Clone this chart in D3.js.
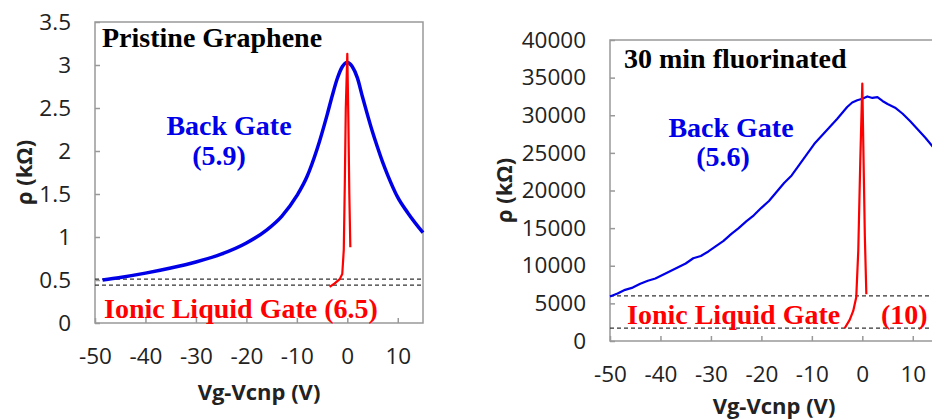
<!DOCTYPE html>
<html>
<head>
<meta charset="utf-8">
<script src="https://cdn.jsdelivr.net/npm/d3@7"></script>
<style>
  body { margin: 0; background: #fff; }
  svg { display: block; }
  .tick text { font-family: "Open Sans", sans-serif; font-size: 22.5px; fill: #222; }
  .axtitle { font-family: "Open Sans", sans-serif; font-size: 22px; font-weight: bold; fill: #222; }
  .lbl { font-family: "Liberation Serif", "Times New Roman", serif; font-size: 28px; font-weight: bold; }
</style>
</head>
<body>
<svg width="932" height="420"></svg>
<script>
// pristine graphene, back gate (V, kOhm)
var bgLeftV   = [-48.5, -45, -40, -35, -30, -25, -20, -16, -13, -10, -8, -6, -4, -3, -2, -1, 0, 1, 2, 3, 4, 5, 6, 7, 8, 10, 12, 15];
var bgLeftRho = [0.50, 0.53, 0.58, 0.64, 0.71, 0.80, 0.93, 1.08, 1.24, 1.48, 1.70, 2.02, 2.42, 2.64, 2.84, 2.98, 3.03, 2.98, 2.85, 2.63, 2.42, 2.22, 2.04, 1.87, 1.72, 1.46, 1.28, 1.05];
// pristine graphene, ionic liquid gate
var ilLeftV   = [-3.5, -2.5, -1.5, -1, -0.7, -0.5, -0.3, 0, 0.2, 0.4, 0.6];
var ilLeftRho = [0.42, 0.46, 0.51, 0.57, 0.85, 1.6, 2.5, 3.13, 2.4, 1.5, 0.88];
var dashLeft  = [0.51, 0.44];

// 30 min fluorinated, back gate
var bgRightV   = [-50, -48.5, -47, -45.5, -44, -42.5, -41, -39.5, -38, -36.5, -35, -33.5, -32, -30.5, -29, -27.5, -26, -24.5, -23, -21.5, -20, -18.5, -17, -15.5, -14, -12.5, -11, -9.5, -8, -6.5, -5, -4, -3, -2, -1, 0, 1, 2, 3, 4, 5, 6.5, 8, 9.5, 11, 12.5, 14, 15];
var bgRightRho = [5900, 6300, 6800, 7100, 7600, 8000, 8300, 8800, 9300, 9800, 10300, 11000, 11300, 11900, 12600, 13300, 14200, 15000, 15900, 16700, 17700, 18600, 19800, 21000, 22000, 23400, 24800, 26200, 27300, 28400, 29500, 30300, 31100, 31700, 32000, 32200, 32500, 32300, 32400, 31900, 31500, 31000, 30200, 29200, 28100, 27000, 25800, 24900];
// 30 min fluorinated, ionic liquid gate
var ilRightV   = [-3.5, -2.5, -1.8, -1.2, -0.8, -0.4, 0, 0.2, 0.5, 0.8];
var ilRightRho = [1700, 2800, 4000, 5800, 12000, 24000, 34200, 26000, 14000, 6200];
var dashRight  = [6000, 1700];

var xTicks = [-50, -40, -30, -20, -10, 0, 10];

var svg = d3.select("svg");

function drawPanel(p) {
  var x = d3.scaleLinear().domain([-50, 15]).range([p.left, p.left + 328]);
  var y = d3.scaleLinear().domain([0, p.ymax]).range([p.bottom, p.top]);
  var g = svg.append("g");

  // y axis, ticks point inward
  var ya = g.append("g").attr("transform", "translate(" + p.left + ",0)")
    .call(d3.axisLeft(y).tickValues(p.yTicks).tickSize(-5).tickPadding(24).tickFormat(function(d) { return String(d); }));
  ya.select(".domain").remove();
  ya.selectAll(".tick line").attr("stroke", "#999").attr("stroke-width", 1.5);

  // x axis
  var xa = g.append("g").attr("transform", "translate(0," + p.bottom + ")")
    .call(d3.axisBottom(x).tickValues(xTicks).tickSize(-5).tickPadding(25).tickFormat(function(d) { return String(d); }));
  xa.select(".domain").remove();
  xa.selectAll(".tick line").attr("stroke", "#999").attr("stroke-width", 1.5);

  // frame
  g.append("rect")
    .attr("x", p.left).attr("y", p.top)
    .attr("width", 328).attr("height", p.bottom - p.top)
    .attr("fill", "none").attr("stroke", "#999").attr("stroke-width", 1.5);

  // dashed reference lines
  g.selectAll(".dash").data(p.dash).enter().append("line")
    .attr("x1", p.left).attr("x2", p.left + 328)
    .attr("y1", function(d) { return y(d); }).attr("y2", function(d) { return y(d); })
    .attr("stroke", "#333").attr("stroke-width", 1.3).attr("stroke-dasharray", "4,3");

  var line = d3.line()
      .x(function(d) { return x(d[0]); })
      .y(function(d) { return y(d[1]); })
      .curve(p.smooth ? d3.curveMonotoneX : d3.curveLinear);

  g.append("path")
    .attr("d", line(d3.zip(p.bgV, p.bgRho)))
    .attr("fill", "none").attr("stroke", "#0000e8").attr("stroke-width", p.bgWidth)
    .attr("stroke-linejoin", "round");

  g.append("path")
    .attr("d", d3.line().x(function(d) { return x(d[0]); }).y(function(d) { return y(d[1]); })(d3.zip(p.ilV, p.ilRho)))
    .attr("fill", "none").attr("stroke", "#ff0000").attr("stroke-width", 2.2)
    .attr("stroke-linejoin", "round");

  // axis titles
  g.append("text").attr("class", "axtitle")
    .attr("x", p.left + 164).attr("y", Math.min(p.bottom + 77, 414))
    .attr("text-anchor", "middle").text("Vg-Vcnp (V)");
  g.append("text").attr("class", "axtitle")
    .attr("transform", "translate(" + p.ytx + "," + ((p.top + p.bottom) / 2) + ") rotate(-90)")
    .attr("text-anchor", "middle").attr("dy", "0.35em").text("ρ (kΩ)");

  p.labels.forEach(function(l) {
    g.append("text").attr("class", "lbl")
      .attr("x", l.x).attr("y", l.y).attr("fill", l.c)
      .attr("text-anchor", l.a || "start").text(l.t);
  });
}

drawPanel({
  left: 95, top: 22, bottom: 323, ymax: 3.5, ytx: 24,
  yTicks: [0, 0.5, 1, 1.5, 2, 2.5, 3, 3.5],
  bgV: bgLeftV, bgRho: bgLeftRho, ilV: ilLeftV, ilRho: ilLeftRho,
  dash: dashLeft, smooth: true, bgWidth: 3.5,
  labels: [
    { t: "Pristine Graphene", x: 102, y: 47, c: "#000" },
    { t: "Back Gate", x: 229, y: 135, c: "#0000e8", a: "middle" },
    { t: "(5.9)", x: 219, y: 165, c: "#0000e8", a: "middle" },
    { t: "Ionic Liquid Gate (6.5)", x: 104, y: 318, c: "#ff0000" }
  ]
});

drawPanel({
  left: 610, top: 40, bottom: 341, ymax: 40000, ytx: 504,
  yTicks: [0, 5000, 10000, 15000, 20000, 25000, 30000, 35000, 40000],
  bgV: bgRightV, bgRho: bgRightRho, ilV: ilRightV, ilRho: ilRightRho,
  dash: dashRight, smooth: false, bgWidth: 2.2,
  labels: [
    { t: "30 min fluorinated", x: 624, y: 68, c: "#000" },
    { t: "Back Gate", x: 731, y: 137, c: "#0000e8", a: "middle" },
    { t: "(5.6)", x: 723, y: 166, c: "#0000e8", a: "middle" },
    { t: "Ionic Liquid Gate", x: 627, y: 324, c: "#ff0000" },
    { t: "(10)", x: 881, y: 324, c: "#ff0000" }
  ]
});
</script>
</body>
</html>
